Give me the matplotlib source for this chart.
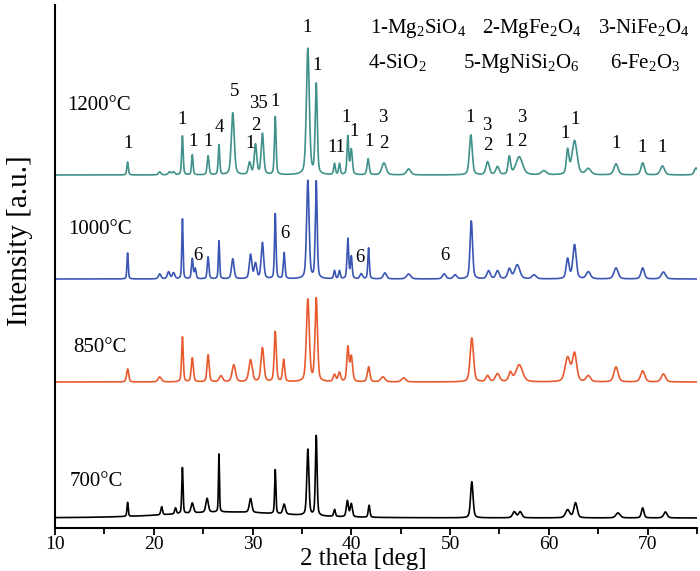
import numpy as np
import matplotlib
matplotlib.use("Agg")
import matplotlib.pyplot as plt

plt.rcParams['font.family'] = ['Liberation Serif', 'DejaVu Serif']
plt.rcParams['mathtext.fontset'] = 'custom'
plt.rcParams['mathtext.rm'] = 'Liberation Serif'
plt.rcParams['mathtext.default'] = 'regular'

# XRD peaks: 2theta [deg], height, FWHM [deg]
peaks_1200 = [(17.35, 13, 0.18), (20.6, 3, 0.3), (21.6, 3, 0.3), (22.0, 3, 0.3),
              (22.9, 39, 0.18), (23.9, 20, 0.18), (25.5, 19, 0.22), (26.6, 30, 0.18),
              (28.0, 62, 0.35), (29.7, 12, 0.3), (30.3, 30, 0.3), (31.0, 41, 0.3),
              (32.3, 58, 0.2), (35.6, 126, 0.35), (36.45, 90, 0.25), (38.3, 11, 0.2),
              (38.8, 11, 0.2), (39.65, 38, 0.2), (40.0, 25, 0.25), (41.7, 16, 0.25),
              (43.3, 12, 0.5), (45.8, 6, 0.5), (52.1, 40, 0.35), (53.8, 13, 0.4),
              (54.8, 8, 0.4), (56.0, 18, 0.3), (57.0, 18, 0.8), (59.5, 4, 0.6),
              (61.9, 24, 0.3), (62.6, 34, 0.6), (64.0, 6, 0.6), (66.8, 11, 0.5),
              (69.5, 12, 0.4), (71.5, 9, 0.5), (74.9, 7, 0.4)]
peaks_1000 = [(17.35, 26, 0.15), (20.6, 5, 0.3), (21.5, 7, 0.3), (22.0, 6, 0.3),
              (22.9, 60, 0.15), (23.9, 20, 0.2), (24.2, 10, 0.2), (25.5, 22, 0.2),
              (26.6, 38, 0.15), (28.0, 20, 0.3), (29.8, 24, 0.3), (30.3, 15, 0.3),
              (31.0, 36, 0.3), (32.3, 65, 0.18), (33.2, 26, 0.2), (35.6, 98, 0.3),
              (36.45, 97, 0.22), (38.3, 8, 0.2), (38.8, 8, 0.2), (39.65, 40, 0.2),
              (40.0, 22, 0.2), (41.0, 5, 0.3), (41.75, 31, 0.18), (43.4, 6, 0.4),
              (45.8, 5, 0.5), (49.4, 5, 0.4), (50.5, 4, 0.4), (52.15, 58, 0.3),
              (53.9, 8, 0.4), (54.8, 8, 0.4), (56.0, 10, 0.4), (56.8, 14, 0.6),
              (58.5, 4, 0.5), (61.9, 20, 0.35), (62.6, 34, 0.4), (64.0, 7, 0.5),
              (66.8, 11, 0.5), (69.5, 11, 0.4), (71.6, 7, 0.5)]
peaks_850 = [(17.35, 13, 0.25), (20.6, 5, 0.4), (22.9, 45, 0.2), (23.9, 24, 0.25),
             (25.5, 27, 0.25), (26.8, 6, 0.4), (28.1, 17, 0.4), (29.8, 22, 0.4),
             (31.0, 34, 0.35), (32.3, 50, 0.25), (33.15, 22, 0.25), (35.6, 82, 0.35),
             (36.45, 83, 0.3), (38.3, 7, 0.3), (38.8, 9, 0.3), (39.65, 34, 0.25),
             (40.0, 25, 0.3), (41.75, 15, 0.3), (43.2, 5, 0.5), (45.3, 4, 0.5),
             (52.2, 44, 0.4), (53.8, 6, 0.4), (54.8, 8, 0.5), (56.1, 9, 0.4),
             (57.0, 17, 0.8), (61.9, 24, 0.6), (62.6, 28, 0.5), (64.0, 6, 0.5),
             (66.8, 15, 0.5), (69.5, 11, 0.5), (71.6, 8, 0.5)]
peaks_700 = [(17.35, 14, 0.15), (20.8, 8, 0.2), (22.2, 6, 0.2), (22.9, 46, 0.15),
             (23.9, 10, 0.3), (25.4, 14, 0.3), (26.6, 58, 0.12), (27.5, 6, 14.0),
             (29.8, 14, 0.3), (32.3, 44, 0.15), (33.2, 10, 0.3), (35.6, 66, 0.25),
             (36.45, 80, 0.2), (38.3, 7, 0.2), (39.6, 16, 0.25), (40.0, 13, 0.25),
             (41.8, 12, 0.2), (52.2, 36, 0.3), (56.5, 6, 0.4), (57.1, 6, 0.4),
             (61.9, 8, 0.5), (62.7, 15, 0.4), (67.0, 5, 0.5), (69.5, 10, 0.3),
             (71.8, 6, 0.4)]

samples = ['1200°C', '1000°C', '850°C', '700°C']
patterns = [peaks_1200, peaks_1000, peaks_850, peaks_700]
offsets = [353, 249, 146, 10]
colors = ['#3f918a', '#3a56b4', '#e85a2e', 'black']
# temperature label: left 2theta, height
temp_pos = [(11.2, 423), (11.3, 298), (11.8, 181), (11.5, 47)]

# phase markers above the 1200 pattern: text, 2theta, height
marks_1200 = [('1', 17.40, 385), ('1', 22.87, 409), ('1', 23.98, 387), ('1', 25.50, 387),
              ('4', 26.62, 401), ('5', 28.14, 436), ('1', 29.76, 385), ('2', 30.37, 403),
              ('35', 30.57, 424), ('1', 32.29, 427), ('1', 35.53, 500), ('1', 36.55, 462),
              ('11', 38.5, 381), ('1', 39.5, 411), ('1', 40.25, 396),
              ('1', 41.81, 386), ('3', 43.23, 410), ('2', 43.33, 385), ('1', 52.05, 410),
              ('3', 53.67, 403), ('2', 53.77, 383), ('1', 56.0, 386), ('3', 57.21, 411),
              ('2', 57.31, 386), ('1', 61.67, 395), ('1', 62.68, 408), ('1', 66.84, 385),
              ('1', 69.48, 381), ('1', 71.5, 381)]
marks_1000 = [('6', 24.49, 273), ('6', 33.3, 295), ('6', 40.9, 271), ('6', 49.5, 273)]

phases = [r'1-Mg$_2$SiO$_4$', r'2-MgFe$_2$O$_4$', r'3-NiFe$_2$O$_4$',
          r'4-SiO$_2$', r'5-MgNiSi$_2$O$_6$', r'6-Fe$_2$O$_3$']
phase_pos = [(370, 33), (482, 33), (598, 33), (368, 68), (463, 68), (610, 68)]


def profile(theta, peaks):
    # pseudo-Voigt sum of the listed reflections
    y = np.zeros_like(theta)
    for c, h, w in peaks:
        g = np.exp(-4*np.log(2)*((theta - c)/w)**2)
        l = 1/(1 + 4*((theta - c)/w)**2)
        y += h*(0.6*g + 0.4*l)
    return y


theta = np.arange(10, 75.01, 0.01)

fig = plt.figure(figsize=(7, 5.71), dpi=100)
ax = fig.add_axes([55/700, 43/571, 642/700, 523/571])

for name, peaks, off, col, (tx, ty) in zip(samples, patterns, offsets, colors, temp_pos):
    ax.plot(theta, off + profile(theta, peaks), color=col, lw=1.2)
    ax.text(tx, ty, name, fontsize=15, ha='left', va='center')

for s, x, y in marks_1200 + marks_1000:
    ax.text(x, y, s, fontsize=13.5, ha='center', va='center')

for s, (px, py) in zip(phases, phase_pos):
    fig.text(px/700, 1 - py/571, s, fontsize=15, ha='left', va='baseline')

ax.set_xlim(10, 75)
ax.set_ylim(0, 523)
ax.set_xticks(np.arange(10, 71, 10))
ax.set_xticks(np.arange(15, 76, 10), minor=True)
ax.set_yticks([])
ax.tick_params(axis='x', which='both', direction='out', width=1.3, labelsize=14, pad=1)
ax.tick_params(axis='x', which='major', length=5)
ax.tick_params(axis='x', which='minor', length=4)
for side in ['top', 'right']:
    ax.spines[side].set_visible(False)
for side in ['left', 'bottom']:
    ax.spines[side].set_linewidth(1.5)

fig.text(363/700, 1 - 565/571, '2 theta [deg]', fontsize=18, ha='center', va='baseline')
fig.text(20/700, 1 - 241/571, 'Intensity [a.u.]', fontsize=21, rotation=90,
         ha='center', va='center')

fig.savefig('out.png', dpi=100)
